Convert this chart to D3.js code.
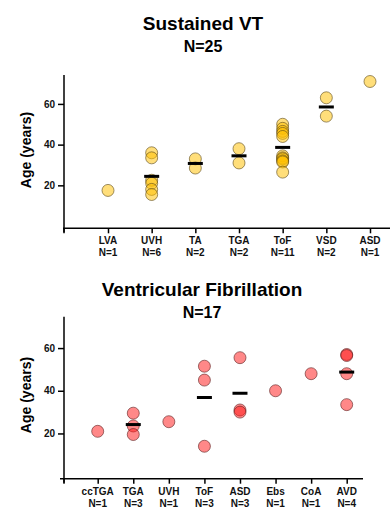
<!DOCTYPE html>
<html>
<head>
<meta charset="utf-8">
<script src="https://cdn.jsdelivr.net/npm/d3@7"></script>
<style>
  body { margin: 0; background: #fff; }
  svg { font-family: "Liberation Sans", Arial, sans-serif; }
</style>
</head>
<body>
<div id="chart"></div>
<script>
// data
var vtCategories = ["LVA", "UVH", "TA", "TGA", "ToF", "VSD", "ASD"];
var vtAges = [
  [17.5],
  [36, 33.5, 22.5, 21, 18, 15.5],
  [33, 28.5],
  [38, 31],
  [50, 48, 46.5, 45.5, 44, 34.5, 33.5, 33, 32, 31.5, 26.5],
  [63, 54],
  [71]
];
var vfCategories = ["ccTGA", "TGA", "UVH", "ToF", "ASD", "Ebs", "CoA", "AVD"];
var vfAges = [
  [21],
  [29.5, 23.5, 19.5],
  [25.5],
  [51.5, 45, 14],
  [55.5, 31, 30],
  [40],
  [48],
  [57, 56.5, 48, 33.5]
];
var yTicks = [20, 40, 60];

var svg = d3.select("#chart").append("svg")
  .attr("width", 390)
  .attr("height", 509);

function panel(o) {
  var g = svg.append("g");
  var x = d3.scalePoint().domain(o.cats).range(o.xRange);
  var y = d3.scaleLinear().domain(o.yDomain).range(o.yRange);
  var n = d3.sum(o.ages, function(a) { return a.length; });
  var y0 = o.yRange[0];

  //titles
  g.append("text")
    .attr("x", o.cx).attr("y", o.titleY)
    .attr("text-anchor", "middle")
    .attr("font-size", 19).attr("font-weight", "bold")
    .text(o.title);
  g.append("text")
    .attr("x", o.cx).attr("y", o.titleY + 22)
    .attr("text-anchor", "middle")
    .attr("font-size", 16).attr("font-weight", "bold")
    .text("N=" + n);

  //axis lines
  g.append("line")
    .attr("x1", 64).attr("x2", 64)
    .attr("y1", o.yRange[1]).attr("y2", y0 + 4)
    .attr("stroke", "#000").attr("stroke-width", 1.5);
  g.append("line")
    .attr("x1", o.axisX[0]).attr("x2", o.axisX[1])
    .attr("y1", y0).attr("y2", y0)
    .attr("stroke", "#000").attr("stroke-width", 1.5);

  var ya = g.append("g")
    .attr("transform", "translate(64,0)")
    .call(d3.axisLeft(y).tickValues(yTicks).tickSize(6).tickPadding(3));
  ya.select(".domain").remove();
  ya.selectAll("line").attr("stroke-width", 1.5);
  ya.selectAll("text")
    .attr("font-size", 10).attr("font-weight", "bold")
    .attr("font-family", "Liberation Sans, Arial, sans-serif")
    .attr("fill", "#111");

  var xa = g.append("g")
    .attr("transform", "translate(0," + y0 + ")")
    .call(d3.axisBottom(x).tickSize(5).tickFormat(""));
  xa.select(".domain").remove();
  xa.selectAll("line").attr("stroke-width", 1.5);
  // tick where the y axis crosses
  g.append("line")
    .attr("x1", 64).attr("x2", 64).attr("y1", y0).attr("y2", y0 + 5)
    .attr("stroke", "#000").attr("stroke-width", 1.5);

  //category labels
  var lab = g.selectAll(".cat").data(o.cats).enter()
    .append("text")
    .attr("class", "cat")
    .attr("text-anchor", "middle")
    .attr("font-size", 10).attr("font-weight", "bold")
    .attr("fill", "#111");
  lab.append("tspan")
    .attr("x", function(d) { return x(d); })
    .attr("y", y0 + 16)
    .text(function(d) { return d; });
  lab.append("tspan")
    .attr("x", function(d) { return x(d); })
    .attr("y", y0 + 28)
    .text(function(d, i) { return "N=" + o.ages[i].length; });

  //y label
  g.append("text")
    .attr("transform", "translate(31," + o.labelY + ") rotate(-90)")
    .attr("text-anchor", "middle")
    .attr("font-size", 14).attr("font-weight", "bold")
    .text("Age (years)");

  //points
  var pts = [];
  o.ages.forEach(function(a, i) {
    a.forEach(function(v) { pts.push({ cat: o.cats[i], v: v }); });
  });
  g.selectAll("circle").data(pts).enter()
    .append("circle")
    .attr("cx", function(d) { return x(d.cat); })
    .attr("cy", function(d) { return y(d.v); })
    .attr("r", 6)
    .attr("fill", o.fill).attr("fill-opacity", 0.52)
    .attr("stroke", o.stroke).attr("stroke-width", 0.8);

  //mean lines
  g.selectAll(".mean").data(o.ages).enter()
    .append("line")
    .attr("class", "mean")
    .attr("x1", function(d, i) { return x(o.cats[i]) - 7.5; })
    .attr("x2", function(d, i) { return x(o.cats[i]) + 7.5; })
    .attr("y1", function(d) { return y(d3.mean(d)); })
    .attr("y2", function(d) { return y(d3.mean(d)); })
    .attr("stroke", "#000").attr("stroke-width", 3)
    .attr("display", function(d) { return d.length > 1 ? null : "none"; });
}

panel({
  title: "Sustained VT",
  cats: vtCategories,
  ages: vtAges,
  cx: 203, titleY: 30,
  xRange: [108, 370],
  axisX: [63, 390],
  yDomain: [-1.1, 74.2],
  yRange: [228.3, 75],
  labelY: 150,
  fill: "#FFBF00",
  stroke: "rgba(90,70,20,0.75)"
});

panel({
  title: "Ventricular Fibrillation",
  cats: vfCategories,
  ages: vfAges,
  cx: 202, titleY: 295.5,
  xRange: [97.7, 346.7],
  axisX: [60, 363],
  yDomain: [-1.2, 74.7],
  yRange: [478.7, 316.7],
  labelY: 395,
  fill: "#FF1A1A",
  stroke: "rgba(90,30,30,0.75)"
});
</script>
</body>
</html>
